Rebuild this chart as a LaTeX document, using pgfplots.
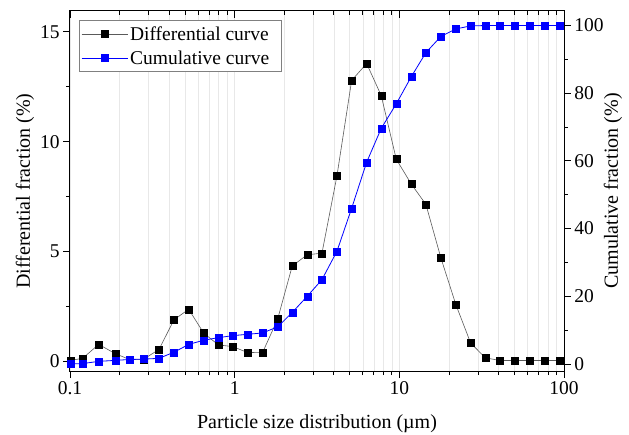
\documentclass[border=0pt]{standalone}
\usepackage{pgfplots}
\usepackage{pgfplotstable}
\pgfplotsset{compat=1.18}
\usepackage{fontspec}
\setmainfont{Liberation Serif}

\pgfplotstableread{
x      d      c
0.101  0.05   0.0
0.1194 0.15   0.1
0.1494 0.78   0.75
0.1895 0.35   1.05
0.2291 0.10   1.3
0.2786 0.10   1.4
0.3471 0.55   1.65
0.428  1.90   3.45
0.5256 2.38   5.75
0.648  1.30   7.0
0.795  0.76   7.75
0.9725 0.68   8.35
1.199  0.41   8.75
1.479  0.42   9.15
1.824  1.93   10.95
2.237  4.35   15.2
2.76   4.86   20.0
3.389  4.93   24.9
4.18   8.45   33.3
5.133  12.79  46.0
6.331  13.56  59.6
7.765  12.10  69.6
9.577  9.21   76.85
11.81  8.08   84.85
14.5   7.15   92.0
17.89  4.71   96.8
22.07  2.58   99.0
27.09  0.85   99.9
33.24  0.17   100
40.82  0.05   100
50.34  0.05   100
61.82  0.05   100
76.25  0.05   100
94.0   0.05   100
}\datatable

\definecolor{gridgray}{RGB}{232,232,232}
\definecolor{linegray}{RGB}{90,90,90}

\begin{document}
\begin{tikzpicture}
% left axis: differential
\begin{axis}[
  width=494pt, height=360pt, scale only axis,
  xmode=log, xmin=0.1, xmax=100,
  xtick={0.1,1,10,100},
  minor xtick={0.2,0.3,0.4,0.5,0.6,0.7,0.8,0.9,2,3,4,5,6,7,8,9,20,30,40,50,60,70,80,90},
  /pgf/number format/assume math mode=true,
  tick style={black, line width=0.8pt},
  major tick length=7pt, minor tick length=4pt,
  axis line style={black, line width=1pt},
  tick label style={font=\fontsize{19.5}{22}\selectfont},
  ymin=-0.43, ymax=15.95,
  ytick={0,5,10,15}, minor ytick={2.5,7.5,12.5},
  xticklabels={0.1,1,10,100},
  xtick pos=left, ytick pos=left, tick align=outside,
  xmajorgrids, xminorgrids,
  major grid style={gridgray, line width=0.6pt},
  minor grid style={gridgray, line width=0.6pt},
  xlabel={Particle size distribution (\textmu m)},
  ylabel={Differential fraction (\%)},
  every axis x label/.style={at={(axis description cs:0.5,-0.147)}, anchor=center, font=\fontsize{20}{24}\selectfont},
  every axis y label/.style={at={(axis description cs:-0.091,0.5)}, rotate=90, anchor=center, font=\fontsize{20}{24}\selectfont},
]
\addplot[color=linegray, line width=0.6pt, mark=square*, mark size=3.5pt,
  mark options={solid, fill=black, draw=black, line width=0.4pt}]
  table[x=x, y=d]{\datatable};
\end{axis}
% right axis: cumulative
\begin{axis}[
  width=494pt, height=360pt, scale only axis,
  xmode=log, xmin=0.1, xmax=100,
  /pgf/number format/assume math mode=true,
  tick style={black, line width=0.8pt},
  major tick length=7pt, minor tick length=4pt,
  axis line style={black, line width=1pt},
  tick label style={font=\fontsize{19.5}{22}\selectfont},
  ymin=-2.1, ymax=104.3,
  ytick={0,20,40,60,80,100}, minor ytick={10,30,50,70,90},
  hide x axis,
  ytick pos=right, yticklabel pos=right, tick align=outside,
  ylabel={Cumulative fraction (\%)},
  every axis y label/.style={at={(axis description cs:1.099,0.5)}, rotate=90, anchor=center, font=\fontsize{20}{24}\selectfont},
  legend style={at={(axis description cs:0,1)}, anchor=north west, xshift=9pt, yshift=-9pt,
    draw=black!50, line width=0.6pt, font=\fontsize{19.5}{23}\selectfont,
    inner xsep=2pt, inner ysep=4pt, row sep=5pt},
  legend cell align=left,
  legend image code/.code={
    \draw[mark repeat=2, mark phase=2, #1] plot coordinates {(0pt,0pt) (23pt,0pt) (46pt,0pt)};
  },
]
\addlegendimage{color=linegray, line width=0.6pt, mark=square*, mark size=3.5pt,
  mark options={solid, fill=black, draw=black, line width=0.4pt}}
\addlegendentry{Differential curve\hspace*{8pt}}
\addplot[color=blue, line width=0.8pt, mark=square*, mark size=3.5pt,
  mark options={solid, fill=blue, draw=blue, line width=0.4pt}]
  table[x=x, y=c]{\datatable};
\addlegendentry{Cumulative curve}
\end{axis}
% top axis: inward ticks only
\begin{axis}[
  width=494pt, height=360pt, scale only axis,
  xmode=log, xmin=0.1, xmax=100,
  xtick={0.1,1,10,100},
  minor xtick={0.2,0.3,0.4,0.5,0.6,0.7,0.8,0.9,2,3,4,5,6,7,8,9,20,30,40,50,60,70,80,90},
  tick style={black, line width=0.8pt},
  major tick length=7pt, minor tick length=4pt,
  axis line style={black, line width=1pt},
  ymin=0, ymax=1,
  hide y axis,
  xtick pos=right, tick align=inside,
  xticklabels={},
]
\end{axis}
\pgfresetboundingbox
\path ([shift={(-70pt,-63pt)}]current axis.south west) rectangle ([shift={(65pt,11pt)}]current axis.north east);
\end{tikzpicture}
\end{document}
